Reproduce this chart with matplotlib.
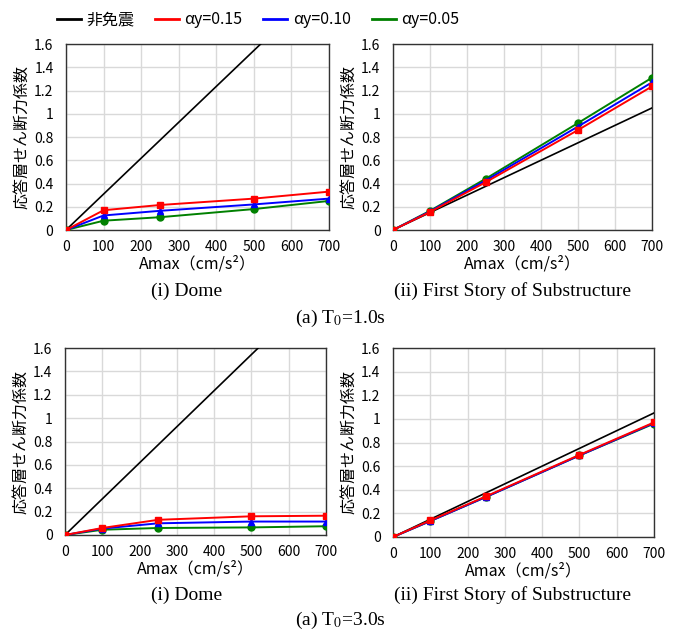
"""
plot.py
story shear coefficient vs Amax, dome and first story, T0=1.0s / 3.0s
"""
import matplotlib
matplotlib.use('Agg')
import matplotlib.pyplot as plt
from matplotlib.ticker import FuncFormatter
from matplotlib.lines import Line2D

JP = ['Noto Sans CJK JP', 'DejaVu Sans']
SERIF = ['Liberation Serif', 'DejaVu Serif']
plt.rcParams['font.family'] = JP

amax = [0, 100, 250, 500, 700]

# T0 = 1.0s
dome1_fixed = [0, 0.309, 0.772, 1.544, 2.16]
dome1_a15 = [0, 0.17, 0.215, 0.27, 0.33]
dome1_a10 = [0, 0.125, 0.165, 0.22, 0.27]
dome1_a05 = [0, 0.08, 0.11, 0.18, 0.25]
sub1_fixed = [0, 0.15, 0.375, 0.75, 1.05]
sub1_a15 = [0, 0.155, 0.41, 0.86, 1.235]
sub1_a10 = [0, 0.16, 0.425, 0.89, 1.27]
sub1_a05 = [0, 0.165, 0.44, 0.92, 1.31]

# T0 = 3.0s
dome3_fixed = [0, 0.309, 0.772, 1.544, 2.16]
dome3_a15 = [0, 0.06, 0.13, 0.16, 0.165]
dome3_a10 = [0, 0.055, 0.10, 0.115, 0.115]
dome3_a05 = [0, 0.045, 0.06, 0.065, 0.075]
sub3_fixed = [0, 0.15, 0.375, 0.75, 1.05]
sub3_a15 = [0, 0.14, 0.345, 0.695, 0.97]
sub3_a10 = [0, 0.135, 0.34, 0.69, 0.965]
sub3_a05 = [0, 0.135, 0.34, 0.69, 0.96]

labels = ['非免震', 'αy=0.15', 'αy=0.10', 'αy=0.05']
colors = ['black', '#ff0000', '#0000ff', '#008000']
markers = [None, 's', '^', 'o']

W, H = 678, 633

def px_axes(fig, x0, y0, x1, y1):
    return fig.add_axes([x0 / W, 1 - y1 / H, (x1 - x0) / W, (y1 - y0) / H])

def draw_panel(ax, series):
    # green first, red last so red sits on top like the original
    for i in [0, 3, 2, 1]:
        ax.plot(amax, series[i], c=colors[i], marker=markers[i], markersize=5,
                linewidth=1.4 if i else 1.2, zorder=3 + (3 - i if i else 0))
    ax.set_xlim(0, 700)
    ax.set_ylim(0, 1.6)
    ax.set_xticks(range(0, 701, 100))
    ax.set_yticks([0, 0.2, 0.4, 0.6, 0.8, 1.0, 1.2, 1.4, 1.6])
    ax.yaxis.set_major_formatter(FuncFormatter(lambda v, p: '%g' % v))
    ax.grid(True, color='#d9d9d9', linewidth=1)
    ax.set_axisbelow(True)
    ax.tick_params(axis='x', length=0, labelsize=10, pad=7)
    ax.tick_params(axis='y', length=0, labelsize=10, pad=9)
    for s in ax.spines.values():
        s.set_color('#333333')
        s.set_linewidth(1)
    ax.set_xlabel('Amax（cm/s²）', fontsize=11.5, labelpad=1)
    ax.set_ylabel('応答層せん断力係数', fontsize=11.5, labelpad=3)

fig = plt.figure(figsize=(W / 100, H / 100), dpi=100)

ax1 = px_axes(fig, 66, 44, 329, 230)
ax2 = px_axes(fig, 393, 44, 652, 230)
ax3 = px_axes(fig, 65, 348, 326, 535)
ax4 = px_axes(fig, 393, 348, 654, 537)

draw_panel(ax1, [dome1_fixed, dome1_a15, dome1_a10, dome1_a05])
draw_panel(ax2, [sub1_fixed, sub1_a15, sub1_a10, sub1_a05])
draw_panel(ax3, [dome3_fixed, dome3_a15, dome3_a10, dome3_a05])
draw_panel(ax4, [sub3_fixed, sub3_a15, sub3_a10, sub3_a05])

handles = [Line2D([], [], c=colors[i], linewidth=2) for i in range(4)]
fig.legend(handles, labels, loc='center', bbox_to_anchor=(258 / W, 1 - 20 / H),
           ncol=4, frameon=False, fontsize=11.5, handlelength=1.5,
           handletextpad=0.35, columnspacing=1.3)

cap = dict(fontsize=14, family=SERIF, ha='center', va='center')
fig.text(187 / W, 1 - 291 / H, '(i) Dome', **cap)
fig.text(512 / W, 1 - 291 / H, '(ii) First Story of Substructure', **cap)
fig.text(340 / W, 1 - 318 / H, '(a) T$_0$=1.0s', math_fontfamily='stix', **cap)
fig.text(187 / W, 1 - 595 / H, '(i) Dome', **cap)
fig.text(512 / W, 1 - 595 / H, '(ii) First Story of Substructure', **cap)
fig.text(340 / W, 1 - 620 / H, '(a) T$_0$=3.0s', math_fontfamily='stix', **cap)

fig.savefig('out.png', dpi=100)
